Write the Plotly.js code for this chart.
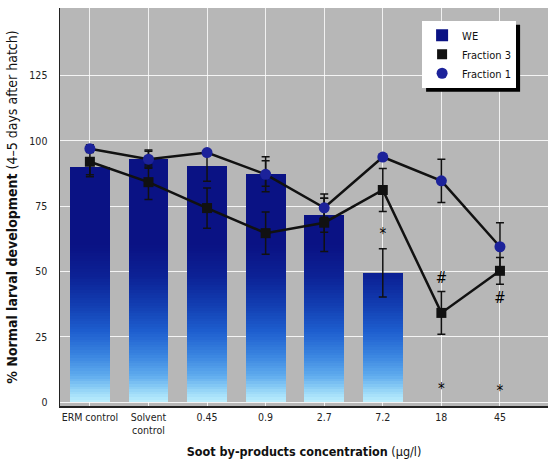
<!DOCTYPE html>
<html>
<head>
<meta charset="utf-8">
<script src="https://cdn.plot.ly/plotly-3.0.1.min.js"></script>
<style>
html,body{margin:0;padding:0;background:#fff;}
#chart{width:548px;height:459px;}
</style>
</head>
<body>
<div id="chart"></div>
<script>
// ---- data ----
const categories = ['ERM control', 'Solvent<br>control', '0.45', '0.9', '2.7', '7.2', '18', '45'];
const weValues   = [90, 93, 90.5, 87.5, 71.5, 49.5, null, null];
const weErr      = [3, 3, 6, 4.9, 6.5, 9.2, null, null];
const frac3Values = [92, 84.2, 74.3, 64.7, 68.7, 81.2, 34.2, 50.3];
const frac3Err    = [5.7, 6.6, 7.7, 8.1, 11, 8.2, 8.2, 5.1];
const frac1Values = [97, 93, 95.5, 87.2, 74.4, 93.8, 84.7, 59.5];
const frac1Err    = [1.5, 3.5, 1, 6.7, 3.6, 1, 8.3, 9.2];
const markCats  = ['7.2', '18', '45', '18', '45'];
const markY     = [64, 47, 39.5, 4.5, 4];
const markText  = ['*', '#', '#', '*', '*'];
const yTicks = [0, 25, 50, 75, 100, 125];

const FONT = '"DejaVu Sans Condensed", "Liberation Sans Narrow", sans-serif';

// gradient stops (value level -> colour), used only for styling the bars
const stops = [
  [0, [190, 240, 253]],
  [5, [145, 210, 246]],
  [10, [96, 172, 238]],
  [18, [58, 132, 224]],
  [27, [30, 95, 207]],
  [37, [18, 62, 178]],
  [48, [12, 34, 150]],
  [60, [10, 18, 132]]
];
function colorAt(v) {
  if (v >= stops[stops.length - 1][0]) return 'rgb(' + stops[stops.length - 1][1].join(',') + ')';
  for (let i = 0; i < stops.length - 1; i++) {
    const [a, ca] = stops[i], [b, cb] = stops[i + 1];
    if (v >= a && v <= b) {
      const t = (v - a) / (b - a);
      const c = ca.map((x, k) => Math.round(x + (cb[k] - x) * t));
      return 'rgb(' + c.join(',') + ')';
    }
  }
  return 'rgb(' + stops[0][1].join(',') + ')';
}

const BARW = 0.68;
const traces = [];
traces.push({
  type: 'bar', x: categories, y: weValues, name: 'WE', width: BARW,
  marker: {color: 'rgb(10,18,132)', line: {width: 0}}, hoverinfo: 'skip'
});
for (let L = 61; L > 0; L -= 1) {
  traces.push({
    type: 'bar', x: categories,
    y: weValues.map(v => v == null ? null : Math.min(v, L)),
    width: BARW, showlegend: false, hoverinfo: 'skip',
    marker: {color: colorAt(L - 0.5), line: {width: 0}}
  });
}
traces.push({
  type: 'scatter', mode: 'markers', x: categories, y: weValues, showlegend: false,
  marker: {size: 1, opacity: 0}, hoverinfo: 'skip',
  error_y: {type: 'data', array: weErr, visible: true, color: '#111', thickness: 1.5, width: 4}
});
traces.push({
  type: 'scatter', mode: 'lines', x: categories, y: frac1Values, showlegend: false,
  line: {color: '#111', width: 2.5}, hoverinfo: 'skip'
});
traces.push({
  type: 'scatter', mode: 'lines', x: categories, y: frac3Values, showlegend: false,
  line: {color: '#111', width: 2.5}, hoverinfo: 'skip'
});
traces.push({
  type: 'scatter', mode: 'markers', x: categories, y: frac3Values, name: 'Fraction 3',
  marker: {symbol: 'square', size: 10, color: '#111'},
  error_y: {type: 'data', array: frac3Err, visible: true, color: '#111', thickness: 1.5, width: 4}
});
traces.push({
  type: 'scatter', mode: 'markers', x: categories, y: frac1Values, name: 'Fraction 1',
  marker: {symbol: 'circle', size: 11, color: '#1c229a'},
  error_y: {type: 'data', array: frac1Err, visible: true, color: '#111', thickness: 1.5, width: 4}
});
traces.push({
  type: 'scatter', mode: 'text', x: markCats, y: markY, text: markText, showlegend: false,
  textfont: {family: FONT, size: 15, color: '#000000'}, hoverinfo: 'skip'
});

const layout = {
  width: 548, height: 459,
  margin: {l: 60, r: 0, t: 8, b: 53},
  paper_bgcolor: '#ffffff',
  plot_bgcolor: '#b7b7b7',
  barmode: 'overlay',
  bargap: 0,
  font: {family: FONT, size: 11, color: '#222'},
  showlegend: true,
  legend: {
    x: 0.742, y: 0.968, xanchor: 'left', yanchor: 'top',
    bgcolor: '#ffffff', bordercolor: '#ffffff', borderwidth: 0,
    font: {family: FONT, size: 11, color: '#111'},
    tracegroupgap: 0, itemwidth: 30, traceorder: 'normal'
  },
  xaxis: {
    type: 'category', range: [-0.51, 7.82],
    showgrid: true, gridcolor: 'rgba(255,255,255,0.8)', gridwidth: 1,
    showline: true, linecolor: '#222', linewidth: 2,
    ticks: '', tickfont: {family: FONT, size: 10.5, color: '#222'},
    zeroline: false, fixedrange: true,
    title: {text: '<b>Soot by-products concentration</b> (µg/l)', font: {family: FONT, size: 12.5, color: '#111'}, standoff: 12}
  },
  yaxis: {
    range: [-1.4, 150.8], tickvals: yTicks, ticktext: yTicks.map(String),
    showgrid: true, gridcolor: 'rgba(255,255,255,0.85)', gridwidth: 1,
    showline: true, linecolor: '#222', linewidth: 1.5,
    ticks: '', ticklabelstandoff: 9,
    tickfont: {family: FONT, size: 10.5, color: '#222'},
    zeroline: false, fixedrange: true,
    title: {text: '<b>% Normal larval development</b> (4–5 days after hatch)', font: {family: FONT, size: 14, color: '#111'}, standoff: 8}
  },
  shapes: []
};

Plotly.newPlot('chart', traces, layout, {displayModeBar: false, staticPlot: true}).then(gd => {
  // drop shadow behind the legend box (decoration only)
  const bg = gd.querySelector('.legend .bg');
  if (!bg) return;
  const r = bg.getBoundingClientRect();
  const c = gd.getBoundingClientRect();
  const fl = gd._fullLayout, s = fl._size;
  const off = 4;
  const px = x => (x - c.left - s.l) / s.w;
  const py = y => 1 - (y - c.top - s.t) / s.h;
  Plotly.relayout(gd, {shapes: [{
    type: 'rect', xref: 'paper', yref: 'paper', layer: 'above',
    x0: px(r.left + off), x1: px(r.right + off),
    y0: py(r.top + off), y1: py(r.bottom + off),
    fillcolor: '#000', line: {width: 0}
  }]});
});
</script>
</body>
</html>
